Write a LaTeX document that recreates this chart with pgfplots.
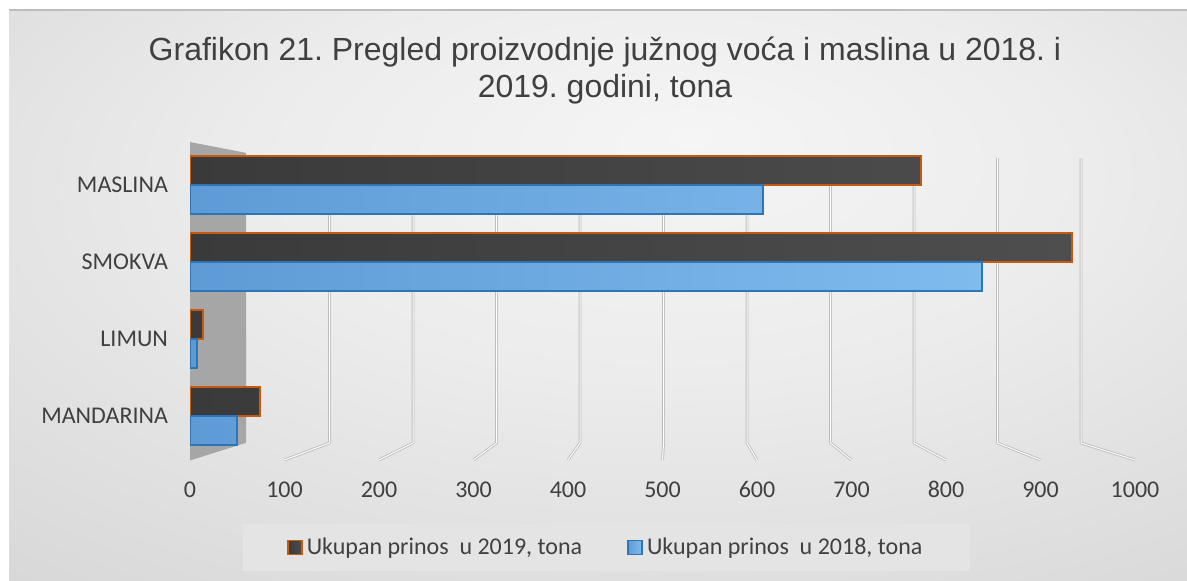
\documentclass[border=0pt]{standalone}
\usepackage{pgfplots}
\pgfplotsset{compat=1.18}
\usepackage{fontspec}
\setmainfont{Carlito}
\newfontfamily\arial{Liberation Sans}
\definecolor{txt}{HTML}{404040}
\definecolor{darkbar}{HTML}{404040}
\definecolor{darkbarL}{HTML}{3A3A3A}
\definecolor{darkbarR}{HTML}{4E4E4E}
\definecolor{orangeb}{HTML}{C55A11}
\definecolor{bluebar}{HTML}{6FA8DC}
\definecolor{bluebarL}{HTML}{5E9BD6}
\definecolor{bluebarR}{HTML}{80BBEE}
\definecolor{blueb}{HTML}{2E75B6}
\definecolor{wall}{HTML}{A6A6A6}
\definecolor{gridc}{HTML}{BDBDBD}
\definecolor{legbg}{HTML}{E4E4E4}
\definecolor{bgA}{HTML}{F5F5F5}
\definecolor{bgB}{HTML}{ECECEC}
\definecolor{bgC}{HTML}{D2D2D2}
\definecolor{bgD}{HTML}{C2C2C2}
\pgfdeclareradialshading{bgshade}{\pgfpoint{4bp}{14bp}}{color(0bp)=(bgA); color(18bp)=(bgB); color(48bp)=(bgC); color(75bp)=(bgD)}
\frenchspacing
\begin{document}
\begin{tikzpicture}
\useasboundingbox (0,0) rectangle (593.5pt,290pt);
\fill[white] (0,0) rectangle (593.5pt,290pt);
\shade[shading=bgshade] (4.5pt,0) rectangle (593.5pt,285pt);
\draw[color=gridc, line width=0.8pt] (4.5pt,285pt) -- (593.5pt,285pt);
\node[font=\arial\fontsize{16}{18.5}\selectfont, text=txt, align=center, anchor=base] at (302.5pt,241.5pt) {Grafikon 21. Pregled proizvodnje južnog voća i maslina u 2018. i\\2019. godini, tona};
\begin{axis}[
  at={(95pt,59pt)}, anchor=south west,
  scale only axis, width=472.5pt, height=161.5pt,
  xmin=0, xmax=1000, ymin=-0.6, ymax=3.6,
  axis line style={draw=none}, major tick length=0pt,
  xtick={0,100,...,1000}, ytick={0,1,2,3},
  yticklabels={MANDARINA,LIMUN,SMOKVA,MASLINA},
  scaled x ticks=false,
  /pgf/number format/1000 sep={},
  /pgf/number format/assume math mode=true,
  ticklabel style={font=\fontsize{12}{14}\selectfont, text=txt},
  xticklabel style={yshift=-6pt, text height=8pt, text depth=0pt},
  yticklabel style={xshift=-7.5pt},
  xbar, bar width=14.5pt,
  legend columns=2,
  legend cell align=left,
  legend style={at={(axis description cs:0.441,-0.2647)}, anchor=center,
    draw=none, fill=legbg, font=\fontsize{12}{14}\selectfont, text=txt,
    inner xsep=22pt, inner ysep=5pt,
    /tikz/every even column/.append style={column sep=20.5pt}},
]
% left wall
\fill[wall] (axis cs:0,-0.58) -- (axis cs:59.3,-0.35) -- (axis cs:59.3,3.42) -- (axis cs:0,3.56) -- cycle;
% 3D-like gridlines
\pgfplotsinvokeforeach{1,...,10}{
  \draw[color=gridc, line width=1.4pt, line join=round] (axis cs:{#1*100},-0.574) -- (axis cs:{59.3+88.36*#1},-0.353) -- (axis cs:{59.3+88.36*#1},3.35);
  \draw[color=white, line width=0.5pt, line join=round] (axis cs:{#1*100},-0.574) -- (axis cs:{59.3+88.36*#1},-0.353) -- (axis cs:{59.3+88.36*#1},3.35);
}
\draw[darkbar, line width=2pt] (axis cs:-2,-0.6) -- (axis cs:-2,3.62);
\addplot[xbar, bar shift=7.25pt, left color=darkbarL, right color=darkbarR, draw=orangeb, line width=1pt,
  legend image code/.code={\draw[fill=darkbar, draw=orangeb, line width=0.9pt] (0pt,-3.5pt) rectangle (7pt,3.5pt);}]
  coordinates {(74,0) (14,1) (933,2) (774,3)};
\addlegendentry{Ukupan prinos\ \ u 2019, tona}
\addplot[xbar, bar shift=-7.25pt, left color=bluebarL, right color=bluebarR, draw=blueb, line width=1pt,
  legend image code/.code={\draw[fill=bluebar, draw=blueb, line width=0.9pt] (0pt,-3.5pt) rectangle (7pt,3.5pt);}]
  coordinates {(50,0) (7,1) (838,2) (606,3)};
\addlegendentry{Ukupan prinos\ \ u 2018, tona}
\end{axis}
\end{tikzpicture}
\end{document}
